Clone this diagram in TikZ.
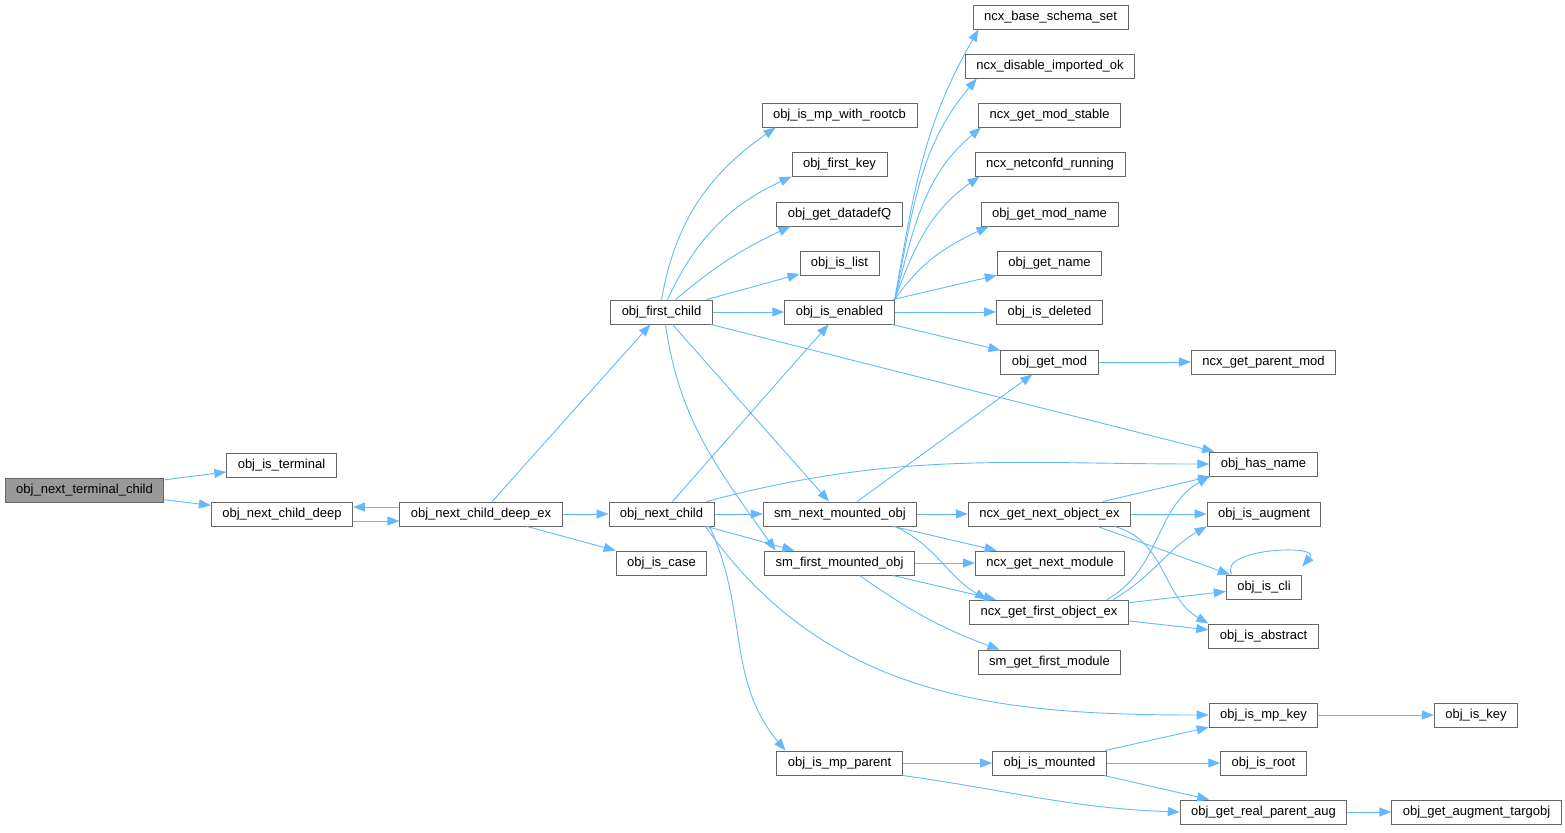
\documentclass[tikz,border=0pt]{standalone}
\usepackage{fontspec}
\setmainfont{Liberation Sans}
\usetikzlibrary{arrows.meta}
\definecolor{edgeblue}{HTML}{63B8FF}
\definecolor{boxgray}{HTML}{666666}
\definecolor{rootgray}{HTML}{999999}
\tikzset{
	fn/.style={draw=boxgray, line width=0.9pt, fill=white, minimum height=24pt, inner xsep=11pt, inner ysep=0pt, text height=9.5pt, text depth=2.5pt, font=\fontsize{13}{15}\selectfont},
	rootfn/.style={fn, fill=rootgray},
	call/.style={draw=edgeblue, line width=0.9pt, -{Triangle[length=12pt,width=9pt]}}
}
\begin{document}
\begin{tikzpicture}[x=1pt,y=1pt]
			\useasboundingbox (0,0) rectangle (1565,-832);
			\node[rootfn] (ntc) at (84.5,-490) {obj\_next\_terminal\_child};
			\node[fn] (isterm) at (281.5,-465) {obj\_is\_terminal};
			\node[fn] (ncdeep) at (282,-514) {obj\_next\_child\_deep};
			\node[fn] (ncdeepex) at (481,-514) {obj\_next\_child\_deep\_ex};
			\node[fn] (firstchild) at (661.5,-312) {obj\_first\_child};
			\node[fn] (nextchild) at (661.5,-514) {obj\_next\_child};
			\node[fn] (iscase) at (661.5,-563) {obj\_is\_case};
			\node[fn] (mprootcb) at (839.5,-115) {obj\_is\_mp\_with\_rootcb};
			\node[fn] (firstkey) at (839.5,-164) {obj\_first\_key};
			\node[fn] (datadefq) at (839.5,-214) {obj\_get\_datadefQ};
			\node[fn] (islist) at (839.5,-263) {obj\_is\_list};
			\node[fn] (isenabled) at (839.5,-312) {obj\_is\_enabled};
			\node[fn] (smnext) at (840,-514) {sm\_next\_mounted\_obj};
			\node[fn] (smfirst) at (839.5,-563) {sm\_first\_mounted\_obj};
			\node[fn] (mpparent) at (839.5,-763) {obj\_is\_mp\_parent};
			\node[fn] (baseschema) at (1050.5,-17) {ncx\_base\_schema\_set};
			\node[fn] (disableimp) at (1050,-66) {ncx\_disable\_imported\_ok};
			\node[fn] (modstable) at (1049.5,-115) {ncx\_get\_mod\_stable};
			\node[fn] (netconfd) at (1050,-164) {ncx\_netconfd\_running};
			\node[fn] (modname) at (1049.5,-214) {obj\_get\_mod\_name};
			\node[fn] (getname) at (1049.5,-263) {obj\_get\_name};
			\node[fn] (isdeleted) at (1049.5,-312) {obj\_is\_deleted};
			\node[fn] (getmod) at (1049.5,-362) {obj\_get\_mod};
			\node[fn] (nextobj) at (1049.5,-514) {ncx\_get\_next\_object\_ex};
			\node[fn] (nextmod) at (1050,-563) {ncx\_get\_next\_module};
			\node[fn] (firstobj) at (1049,-612) {ncx\_get\_first\_object\_ex};
			\node[fn] (smfirstmod) at (1049.5,-662) {sm\_get\_first\_module};
			\node[fn] (ismounted) at (1049.5,-763) {obj\_is\_mounted};
			\node[fn] (parentmod) at (1263.5,-362) {ncx\_get\_parent\_mod};
			\node[fn] (hasname) at (1263.5,-464) {obj\_has\_name};
			\node[fn] (isaugment) at (1264,-514) {obj\_is\_augment};
			\node[fn] (iscli) at (1264,-587) {obj\_is\_cli};
			\node[fn] (isabstract) at (1263.5,-636) {obj\_is\_abstract};
			\node[fn] (mpkey) at (1263.5,-715) {obj\_is\_mp\_key};
			\node[fn] (isroot) at (1263.5,-763) {obj\_is\_root};
			\node[fn] (realparent) at (1263.5,-812) {obj\_get\_real\_parent\_aug};
			\node[fn] (iskey) at (1476,-715) {obj\_is\_key};
			\node[fn] (targobj) at (1476.5,-812) {obj\_get\_augment\_targobj};
			\draw[call] (ntc) -- (isterm);
			\draw[call] (ntc) -- (ncdeep);
			\draw[call] ([yshift=-7pt]ncdeep.east) -- ([yshift=-7pt]ncdeepex.west);
			\draw[call] ([yshift=7pt]ncdeepex.west) -- ([yshift=7pt]ncdeep.east);
			\draw[call] (ncdeepex) -- (firstchild);
			\draw[call] (ncdeepex) -- (nextchild);
			\draw[call] (ncdeepex) -- (iscase);
			\draw[call] (firstchild.north) to[out=80,in=215] ([xshift=14pt]mprootcb.south west);
			\draw[call] ([xshift=6pt]firstchild.north) to[out=65,in=205] (firstkey.south west);
			\draw[call] ([xshift=14pt]firstchild.north) to[out=40,in=205] ([xshift=14pt]datadefq.south west);
			\draw[call] (firstchild) -- (islist);
			\draw[call] (firstchild) -- (isenabled);
			\draw[call] (firstchild) -- (hasname);
			\draw[call] (firstchild) -- (smnext);
			\draw[call] ([xshift=4pt]firstchild.south) to[out=-82,in=125] ([xshift=-64pt]smfirst.north);
			\draw[call] (nextchild) -- (isenabled);
			\draw[call] ([xshift=45pt]nextchild.north) to[out=15,in=180] (hasname.west);
			\draw[call] (nextchild) -- (smnext);
			\draw[call] (nextchild) -- (smfirst);
			\draw[call] ([xshift=48pt]nextchild.south) to[out=-65,in=130] ([xshift=-54pt]mpparent.north);
			\draw[call] ([xshift=44pt]nextchild.south) to[out=-55,in=180] (mpkey.west);
			\draw[call] (isenabled.north east) to[out=80,in=240] ([xshift=6pt]baseschema.south west);
			\draw[call] (isenabled.north east) to[out=78,in=230] ([xshift=12pt]disableimp.south west);
			\draw[call] (isenabled.north east) to[out=75,in=220] ([xshift=3pt]modstable.south west);
			\draw[call] (isenabled.north east) to[out=70,in=215] ([xshift=5pt]netconfd.south west);
			\draw[call] (isenabled.north east) to[out=55,in=205] ([xshift=8pt]modname.south west);
			\draw[call] (isenabled) -- (getname);
			\draw[call] (isenabled) -- (isdeleted);
			\draw[call] (isenabled) -- (getmod);
			\draw[call] (getmod) -- (parentmod);
			\draw[call] (smnext) -- (getmod);
			\draw[call] (smnext) -- (nextobj);
			\draw[call] (smnext) -- (nextmod);
			\draw[call] ([xshift=55pt]smnext.south) to[out=-25,in=150] ([xshift=-62pt]firstobj.north);
			\draw[call] (smfirst) -- (nextmod);
			\draw[call] (smfirst) -- (firstobj);
			\draw[call] ([xshift=20pt]smfirst.south) to[out=-35,in=160] ([xshift=-50pt]smfirstmod.north);
			\draw[call] (nextobj) -- (hasname);
			\draw[call] (nextobj) -- (isaugment);
			\draw[call] ([xshift=48pt]nextobj.south) -- (iscli);
			\draw[call] ([xshift=65pt]nextobj.south) to[out=-15,in=150] (isabstract.north west);
			\draw[call] ([xshift=58pt]firstobj.north) to[out=30,in=210] (hasname.south west);
			\draw[call] ([xshift=64pt]firstobj.north) to[out=30,in=210] (isaugment.south west);
			\draw[call] (firstobj) -- (iscli);
			\draw[call] (firstobj) -- (isabstract);
			\draw[call] ([xshift=6pt]iscli.north west) to[out=120,in=50,distance=30pt] ([yshift=8pt]iscli.north east);
			\draw[call] (mpparent) -- (ismounted);
			\draw[call] (mpparent.south east) to[out=-8,in=178] (realparent.west);
			\draw[call] (ismounted) -- (mpkey);
			\draw[call] (ismounted) -- (isroot);
			\draw[call] (ismounted) -- (realparent);
			\draw[call] (mpkey) -- (iskey);
			\draw[call] (realparent) -- (targobj);
		\end{tikzpicture}
\end{document}
